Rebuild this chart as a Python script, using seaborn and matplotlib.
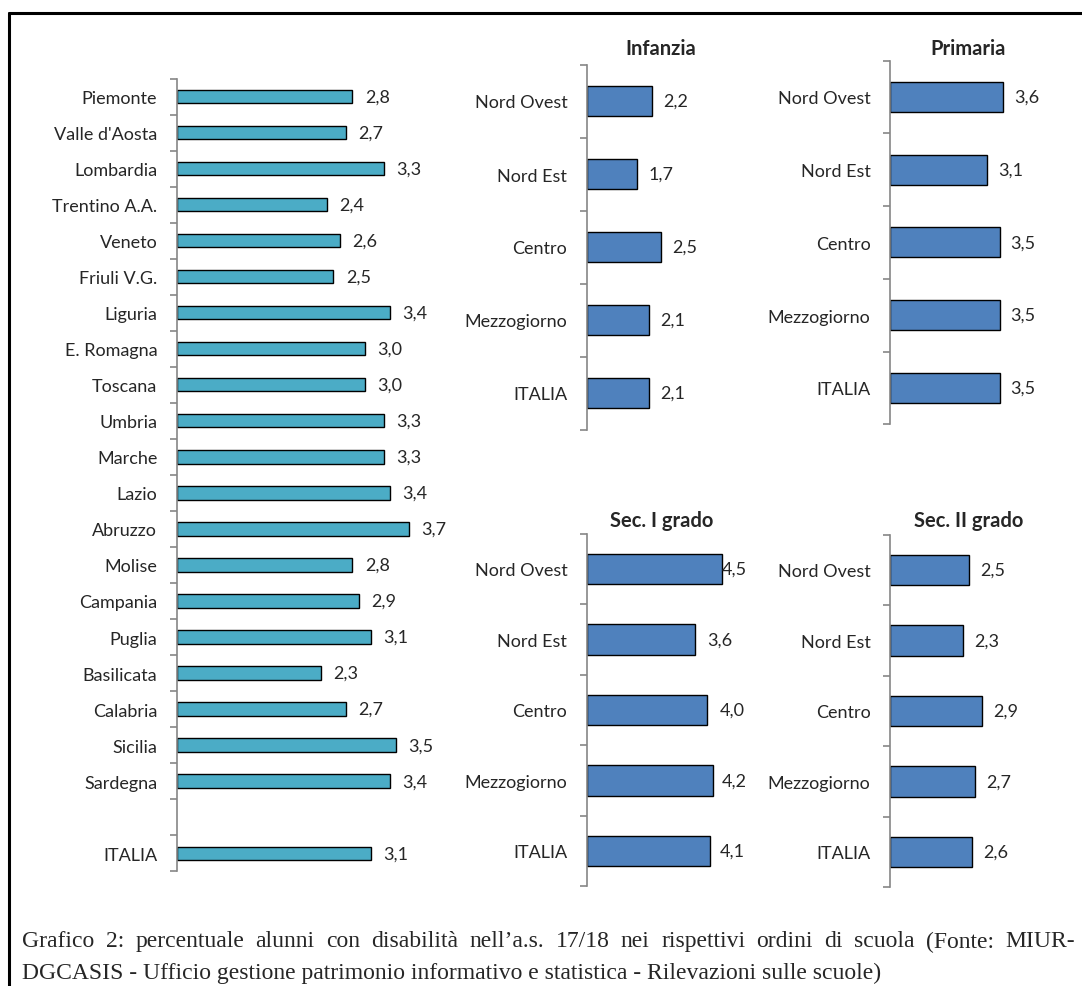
import numpy as np
import pandas as pd
import matplotlib
matplotlib.use("Agg")
import matplotlib.pyplot as plt
import seaborn as sns
from matplotlib.lines import Line2D

# regional data (left chart)
regioni = ["Piemonte", "Valle d'Aosta", "Lombardia", "Trentino A.A.", "Veneto",
           "Friuli V.G.", "Liguria", "E. Romagna", "Toscana", "Umbria", "Marche",
           "Lazio", "Abruzzo", "Molise", "Campania", "Puglia", "Basilicata",
           "Calabria", "Sicilia", "Sardegna", "ITALIA"]
valori_regioni = [2.8, 2.7, 3.3, 2.4, 2.6, 2.5, 3.4, 3.0, 3.0, 3.3, 3.3, 3.4,
                  3.7, 2.8, 2.9, 3.1, 2.3, 2.7, 3.5, 3.4, 3.1]

# macro areas, by school level
aree = ["Nord Ovest", "Nord Est", "Centro", "Mezzogiorno", "ITALIA"]
infanzia = [2.2, 1.7, 2.5, 2.1, 2.1]
primaria = [3.6, 3.1, 3.5, 3.5, 3.5]
sec_primo = [4.5, 3.6, 4.0, 4.2, 4.1]
sec_secondo = [2.5, 2.3, 2.9, 2.7, 2.6]

caption_1 = ("Grafico 2: percentuale alunni con disabilità nell\u2019a.s. 17/18 nei rispettivi "
             "ordini di scuola (Fonte: MIUR-")
caption_2 = "DGCASIS - Ufficio gestione patrimonio informativo e statistica - Rilevazioni sulle scuole)"

sns.set_style("white")
plt.rcParams["font.family"] = ["Lato", "DejaVu Sans"]

W, H = 1082, 987
fig = plt.figure(figsize=(W / 100, H / 100), dpi=100)

GRIGIO = "#868686"
FS = 13


def rect(x0, y_top, w, h):
    return [x0 / W, 1 - (y_top + h) / H, w / W, h / H]


def pannello(ax, cats, order, vals, colore, bar_w, pad, xmax=5, title=None, title_pad=None):
    df = pd.DataFrame({"cat": cats, "val": vals})
    sns.barplot(data=df, x="val", y="cat", order=order, color=colore, saturation=1,
                edgecolor="black", linewidth=1, width=bar_w, ax=ax)
    n = len(order)
    ax.set_xlim(0, xmax)
    ax.set_ylim(n - 0.5, -0.5)
    ax.set_yticks(np.arange(-0.5, n, 1))
    ax.set_yticklabels([])
    ax.set_yticks(np.arange(n), minor=True)
    ax.set_yticklabels(order, minor=True, fontsize=FS)
    ax.tick_params(axis="y", which="major", left=True, length=5, width=1.2,
                   color=GRIGIO, direction="out")
    ax.tick_params(axis="y", which="minor", left=True, length=0, pad=14)
    ax.set_xticks([])
    ax.set_xlabel("")
    ax.set_ylabel("")
    for s in ["top", "right", "bottom"]:
        ax.spines[s].set_visible(False)
    ax.spines["left"].set_color(GRIGIO)
    ax.spines["left"].set_linewidth(1.2)
    bars = ax.containers[0]
    etichette = [f"{b.get_width():.1f}".replace(".", ",") for b in bars]
    anns = ax.bar_label(bars, labels=etichette, padding=8, fontsize=FS)
    pads = pad if isinstance(pad, list) else [pad] * len(anns)
    for a, p in zip(anns, pads):
        a.xyann = (p, 0)
    if title:
        ax.set_title(title, fontsize=14.5, fontweight="bold", pad=title_pad)


# left chart, with an empty slot before ITALIA
ax0 = fig.add_axes(rect(176.7, 79.5, 4 * 62.7, 21 * 37.75))
ordine = regioni[:-1] + [""] + ["ITALIA"]
pannello(ax0, regioni, ordine, valori_regioni, "#4BACC6", 0.37, 9, xmax=4)

ax1 = fig.add_axes(rect(586.7, 65.5, 5 * 29.7, 5 * 73))
pannello(ax1, aree, aree, infanzia, "#4F81BD", 0.41, 8, title="Infanzia", title_pad=7.5)

ax2 = fig.add_axes(rect(890, 61.5, 5 * 31.3, 5 * 72.75))
pannello(ax2, aree, aree, primaria, "#4F81BD", 0.41, 8, title="Primaria", title_pad=4.7)

ax3 = fig.add_axes(rect(586.7, 534.75, 5 * 30.1, 5 * 70.5))
pannello(ax3, aree, aree, sec_primo, "#4F81BD", 0.43, [0, 9, 9, 6, 7],
         title="Sec. I grado", title_pad=5.8)

ax4 = fig.add_axes(rect(890, 535.75, 5 * 31.6, 5 * 70.5))
pannello(ax4, aree, aree, sec_secondo, "#4F81BD", 0.43, 8, title="Sec. II grado", title_pad=6.5)

# frame around the figure
fig.add_artist(Line2D([9 / W, 9 / W], [0, 1 - 14 / H], color="black", lw=2.2))
fig.add_artist(Line2D([9 / W, 1], [1 - 14 / H, 1 - 14 / H], color="black", lw=2.2))


# caption, first line justified
def riga(testo, y, x1=None):
    r = fig.canvas.get_renderer()
    if x1 is None:
        fig.text(22 / W, 1 - y / H, testo, fontsize=17, family="Liberation Serif", va="center")
        return
    parole = testo.split(" ")
    ts = [fig.text(0, 1 - y / H, p, fontsize=17, family="Liberation Serif", va="center")
          for p in parole]
    larg = [t.get_window_extent(r).width for t in ts]
    gap = (x1 - 22 - sum(larg)) / (len(parole) - 1)
    x = 22
    for t, w in zip(ts, larg):
        t.set_x(x / W)
        x += w + gap


riga(caption_1, 942, x1=1075)
riga(caption_2, 973)

fig.savefig("out.png", dpi=100)
